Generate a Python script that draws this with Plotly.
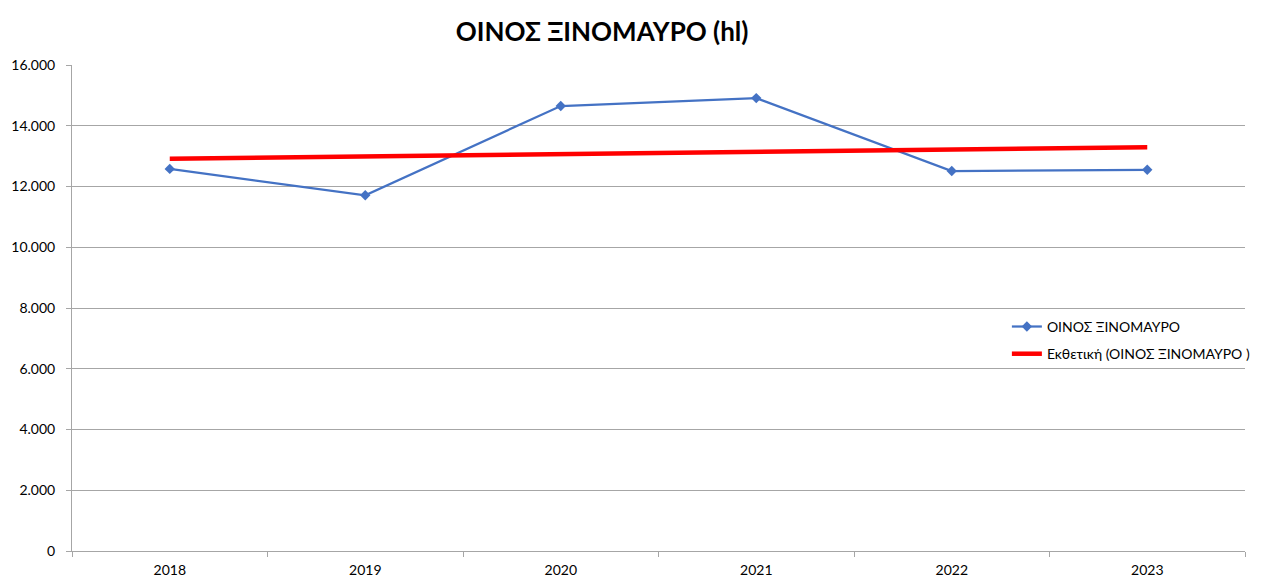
import numpy as np
import plotly.graph_objects as go

years = ["2018", "2019", "2020", "2021", "2022", "2023"]
values = [12580, 11710, 14650, 14910, 12510, 12550]
series_name = "ΟΙΝΟΣ ΞΙΝΟΜΑΥΡΟ"
trend_name = "Εκθετική (ΟΙΝΟΣ ΞΙΝΟΜΑΥΡΟ )"
title_text = "ΟΙΝΟΣ ΞΙΝΟΜΑΥΡΟ (hl)"
y_ticks = [0, 2000, 4000, 6000, 8000, 10000, 12000, 14000, 16000]

# Exponential trendline (least squares on log values), like Excel
xi = np.arange(1, len(values) + 1)
b, a = np.polyfit(xi, np.log(values), 1)
trend = np.exp(a + b * xi)

fig = go.Figure()
fig.add_trace(go.Scatter(
    x=years, y=values, name=series_name, mode="lines+markers",
    legendgroup="a",
    line=dict(color="#4472C4", width=2.25),
    marker=dict(symbol="diamond", size=8, color="#4472C4"),
))
fig.add_trace(go.Scatter(
    x=years, y=trend, name=trend_name, mode="lines",
    legendgroup="b",
    line=dict(color="#FF0000", width=4.5),
))

fig.update_layout(
    width=1256, height=571,
    margin=dict(l=64, r=19, t=57, b=28, autoexpand=False),
    paper_bgcolor="white", plot_bgcolor="white",
    font=dict(family="Lato, Liberation Sans, sans-serif", size=14, color="#000000"),
    separators=",.",
    title=dict(text="<b>" + title_text + "</b>", x=0.473, xanchor="center",
               y=0.958, yanchor="middle", font=dict(size=26, color="#000000")),
    showlegend=True,
    legend=dict(x=0.797, y=0.494, xanchor="left", yanchor="top",
                bgcolor="rgba(0,0,0,0)", font=dict(size=14),
                itemwidth=30, tracegroupgap=6, borderwidth=0),
    xaxis=dict(type="category", range=[-0.5, 5.5], showgrid=False,
               showline=True, linecolor="#A6A6A6", linewidth=1,
               ticks="outside", tickson="boundaries", ticklen=5, tickcolor="#A6A6A6",
               ticklabelstandoff=6, automargin=False, fixedrange=True),
    yaxis=dict(range=[0, 16000], tickvals=y_ticks, tickformat=",d",
               showgrid=True, gridcolor="#A6A6A6", gridwidth=1,
               showline=True, linecolor="#A6A6A6", linewidth=1,
               ticks="outside", ticklen=5, tickcolor="#A6A6A6",
               ticklabelstandoff=8, automargin=False, zeroline=False, fixedrange=True),
)

fig.write_html("out.html")
